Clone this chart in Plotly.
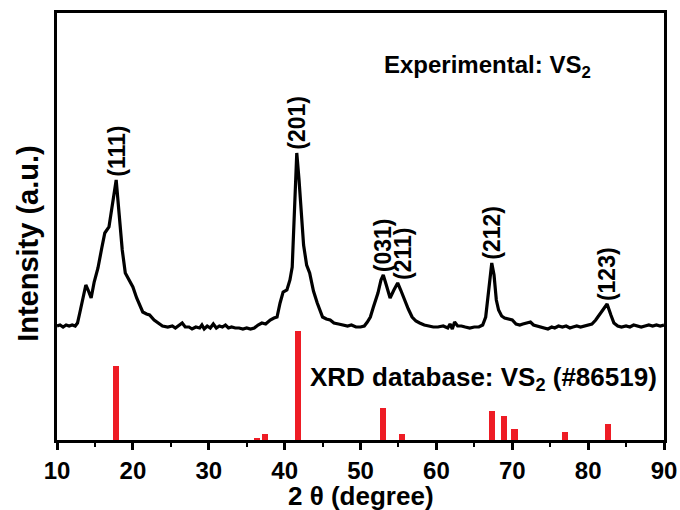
import plotly.graph_objects as go

# Experimental XRD pattern (2theta in degrees, intensity in a.u. incl. offset)
exp_2theta = [10.0, 10.4, 10.8, 11.2, 11.6, 12.0, 12.4, 12.7, 13.0, 13.4, 13.8, 14.1, 14.5, 14.9,
              15.4, 15.9, 16.3, 16.85, 17.3, 17.8, 18.2, 18.6, 19.0, 19.5, 20.0, 20.5, 21.0, 21.3,
              21.8, 22.2, 22.8, 23.3, 23.9, 24.6, 25.2, 25.6, 26.0, 26.5, 26.9, 27.4, 27.8, 28.3,
              28.8, 29.1, 29.4, 29.8, 30.2, 30.6, 31.0, 31.4, 31.8, 32.2, 32.6, 33.0, 33.5, 34.0,
              34.5, 35.0, 35.5, 36.0, 36.5, 37.0, 37.5, 38.1, 38.6, 39.0, 39.4, 39.8, 40.3, 40.7,
              41.0, 41.3, 41.6, 41.9, 42.2, 42.5, 42.9, 43.3, 43.8, 44.3, 45.0, 45.5, 46.0, 46.5,
              47.1, 47.7, 48.3, 48.8, 49.4, 50.0, 50.5, 50.9, 51.3, 51.7, 52.3, 52.7, 53.0, 53.4,
              53.9, 54.4, 54.9, 55.3, 55.8, 56.3, 56.8, 57.3, 57.8, 58.4, 59.0, 59.6, 60.2, 60.9,
              61.5, 61.8, 62.1, 62.4, 62.8, 63.3, 63.8, 64.4, 65.0, 65.6, 66.1, 66.5, 66.9, 67.3,
              67.6, 67.9, 68.2, 68.6, 69.0, 69.5, 70.0, 70.5, 71.0, 71.4, 71.9, 72.4, 72.8, 73.3,
              73.8, 74.3, 74.7, 75.2, 75.6, 76.1, 76.6, 77.1, 77.6, 78.0, 78.5, 79.0, 79.5, 80.0,
              80.5, 81.0, 81.5, 82.0, 82.5, 83.0, 83.4, 83.9, 84.4, 85.0, 85.5, 86.0, 86.5, 87.0,
              87.5, 88.0, 88.5, 89.0, 89.5, 90.0]
exp_intensity = [114, 115, 113, 115, 114, 115, 114, 117, 127, 143, 155, 150, 142, 158,
                 172, 192, 207, 213, 235, 260, 225, 190, 167, 160, 153, 142, 132, 128,
                 126, 125, 120, 117, 114, 113, 114, 112, 114, 117, 113, 113, 111, 113,
                 112, 115, 111, 114, 112, 116, 112, 114, 113, 115, 112, 113, 112, 112,
                 111, 112, 111, 112, 115, 117, 116, 120, 122, 123, 137, 148, 150, 160,
                 173, 230, 287, 260, 225, 195, 175, 167, 149, 137, 123, 121, 120, 117,
                 116, 115, 114, 115, 113, 113, 114, 118, 123, 133, 147, 160, 165, 155,
                 142, 150, 157, 150, 140, 131, 123, 119, 117, 115, 114, 113, 113, 114,
                 112, 116, 111, 118, 114, 114, 113, 112, 113, 113, 115, 123, 150, 177,
                 165, 140, 130, 124, 122, 121, 120, 116, 115, 116, 117, 118, 115, 114,
                 113, 112, 111, 113, 112, 114, 113, 114, 112, 113, 114, 113, 114, 115,
                 116, 120, 125, 131, 136, 125, 117, 114, 113, 114, 113, 115, 114, 113,
                 114, 115, 114, 115, 114, 115]

# Reference database lines (VS2 #86519)
ref_2theta = [17.8, 36.4, 37.4, 41.8, 53.0, 55.5, 67.3, 68.9, 70.3, 76.9, 82.6]
ref_intensity = [74, 2, 6, 109, 32, 6, 29, 24, 11, 8, 16]

# Peak labels
peak_labels = ["(111)", "(201)", "(031)", "(211)", "(212)", "(123)"]
peak_pos = [17.8, 41.6, 53.0, 55.6, 67.3, 82.5]
peak_top = [260, 287, 165, 157, 177, 136]

FONT = "Liberation Sans, Arial, sans-serif"

fig = go.Figure()
fig.add_trace(go.Bar(x=ref_2theta, y=ref_intensity, width=0.8,
                     marker=dict(color="#ee1c25", line=dict(width=0)),
                     showlegend=False))
fig.add_trace(go.Scatter(x=exp_2theta, y=exp_intensity, mode="lines",
                         line=dict(color="black", width=3.2), showlegend=False))

for lab, xp, yp in zip(peak_labels, peak_pos, peak_top):
    fig.add_annotation(x=xp, y=yp, text="<b>%s</b>" % lab, showarrow=False,
                       textangle=-90, xanchor="center", yanchor="bottom", yshift=1,
                       font=dict(family=FONT, size=23, color="black"))

fig.add_annotation(x=0.535, y=0.874, xref="paper", yref="paper",
                   text="<b>Experimental: VS<sub>2</sub></b>", showarrow=False,
                   xanchor="left", yanchor="middle",
                   font=dict(family=FONT, size=24, color="black"))
fig.add_annotation(x=0.992, y=0.143, xref="paper", yref="paper",
                   text="<b>XRD database: VS<sub>2</sub> (#86519)</b>", showarrow=False,
                   xanchor="right", yanchor="middle",
                   font=dict(family=FONT, size=26, color="black"))
# axis titles
fig.add_annotation(x=-0.049, y=0.46, xref="paper", yref="paper",
                   text="<b>Intensity (a.u.)</b>", showarrow=False, textangle=-90,
                   xanchor="center", yanchor="middle",
                   font=dict(family=FONT, size=29, color="black"))
fig.add_annotation(x=0.5, y=-0.131, xref="paper", yref="paper",
                   text="<b>2 θ (degree)</b>", showarrow=False,
                   xanchor="center", yanchor="middle",
                   font=dict(family=FONT, size=26, color="black"))

fig.update_layout(
    width=680, height=510,
    margin=dict(l=57, r=16, t=13, b=70),
    plot_bgcolor="white", paper_bgcolor="white",
    bargap=0,
    xaxis=dict(range=[10, 90], tickvals=[10, 20, 30, 40, 50, 60, 70, 80, 90],
               ticks="outside", ticklen=7, tickwidth=2.5, tickcolor="black",
               minor=dict(dtick=5, tick0=10, ticks="outside", ticklen=4, tickwidth=2, tickcolor="black"),
               showline=True, linewidth=2.5, linecolor="black", mirror=True,
               showgrid=False, zeroline=False, automargin=False,
               tickfont=dict(family=FONT, size=24, color="black", weight="bold")),
    yaxis=dict(range=[0, 427], showticklabels=False, ticks="",
               showline=True, linewidth=2.5, linecolor="black", mirror=True,
               showgrid=False, zeroline=False, automargin=False),
)

fig.write_html("out.html")
